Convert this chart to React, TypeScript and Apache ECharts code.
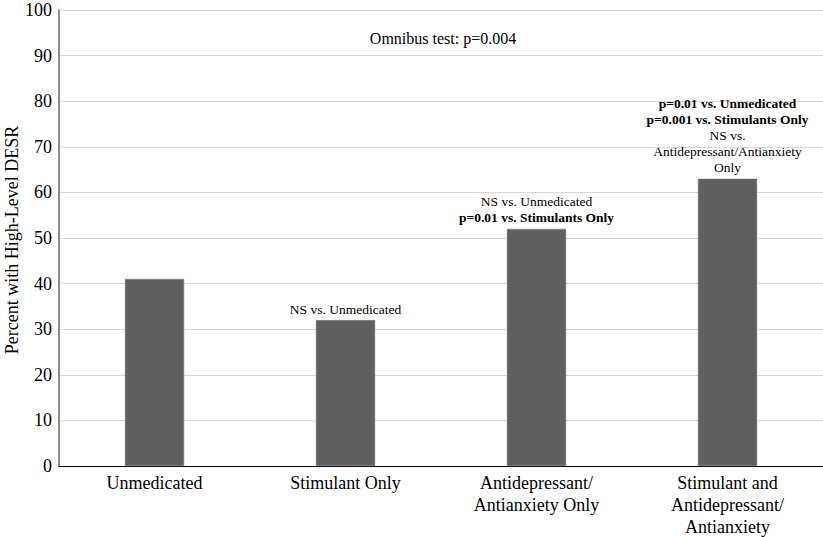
import React, { useEffect, useRef } from "react";
import * as echarts from "echarts";

const categories = [
  "Unmedicated",
  "Stimulant Only",
  "Antidepressant/\nAntianxiety Only",
  "Stimulant and\nAntidepressant/\nAntianxiety",
];
const values = [41, 32, 52, 63];
const annotations = [
  "",
  "{n|NS vs. Unmedicated}",
  "{n|NS vs. Unmedicated}\n{b|p=0.01 vs. Stimulants Only}",
  "{b|p=0.01 vs. Unmedicated}\n{b|p=0.001 vs. Stimulants Only}\n{n|NS vs.}\n{n|Antidepressant/Antianxiety}\n{n|Only}",
];
const omnibusText = "Omnibus test: p=0.004";
const yAxisTitle = "Percent with High-Level DESR";

const FONT = "Liberation Serif, Times New Roman, serif";

export default function App() {
  const ref = useRef<HTMLDivElement>(null);
  useEffect(() => {
    if (!ref.current) return;
    const chart = echarts.init(ref.current, null, { renderer: "svg" });
    chart.setOption({
      animation: false,
      textStyle: { fontFamily: FONT },
      grid: { left: 59, right: 0, top: 10, bottom: 71, containLabel: false, outerBoundsMode: "none" },
      graphic: [
        {
          type: "text",
          x: 443,
          y: 38,
          style: {
            text: omnibusText,
            fontFamily: FONT,
            fontSize: 16,
            fill: "#000",
            textAlign: "center",
            textVerticalAlign: "middle",
          },
        },
        {
          type: "text",
          x: 12,
          y: 240,
          rotation: Math.PI / 2,
          style: {
            text: yAxisTitle,
            fontFamily: FONT,
            fontSize: 18,
            fill: "#000",
            textAlign: "center",
            textVerticalAlign: "middle",
          },
        },
      ],
      xAxis: {
        type: "category",
        data: categories,
        axisLine: { lineStyle: { color: "#000", width: 1 } },
        axisTick: { show: false },
        axisLabel: {
          interval: 0,
          color: "#000",
          fontFamily: FONT,
          fontSize: 18,
          lineHeight: 22,
          margin: 6,
        },
      },
      yAxis: {
        type: "value",
        min: 0,
        max: 100,
        interval: 10,
        axisLine: { show: true, lineStyle: { color: "#8c8c8c", width: 2 } },
        axisTick: { show: false },
        axisLabel: { color: "#000", fontFamily: FONT, fontSize: 18, margin: 7 },
        splitLine: { lineStyle: { color: "#d9d9d9", width: 1 } },
      },
      series: [
        {
          type: "bar",
          barWidth: "31%",
          data: values.map((v, i) => ({
            value: v,
            label: {
              show: annotations[i] !== "",
              position: "top",
              distance: 3,
              formatter: annotations[i] || "",
              align: "center",
              rich: {
                n: { fontFamily: FONT, fontSize: 13.5, color: "#000", lineHeight: 16, align: "center" },
                b: { fontFamily: FONT, fontSize: 13.5, fontWeight: "bold", color: "#000", lineHeight: 16, align: "center" },
              },
            },
          })),
          itemStyle: { color: "#5f5f5f", borderColor: "#7a7a7a", borderWidth: 0.5 },
        },
      ],
    });
    return () => chart.dispose();
  }, []);
  return <div ref={ref} style={{ width: 823, height: 537, position: "absolute", left: 0, top: 0 }} />;
}
